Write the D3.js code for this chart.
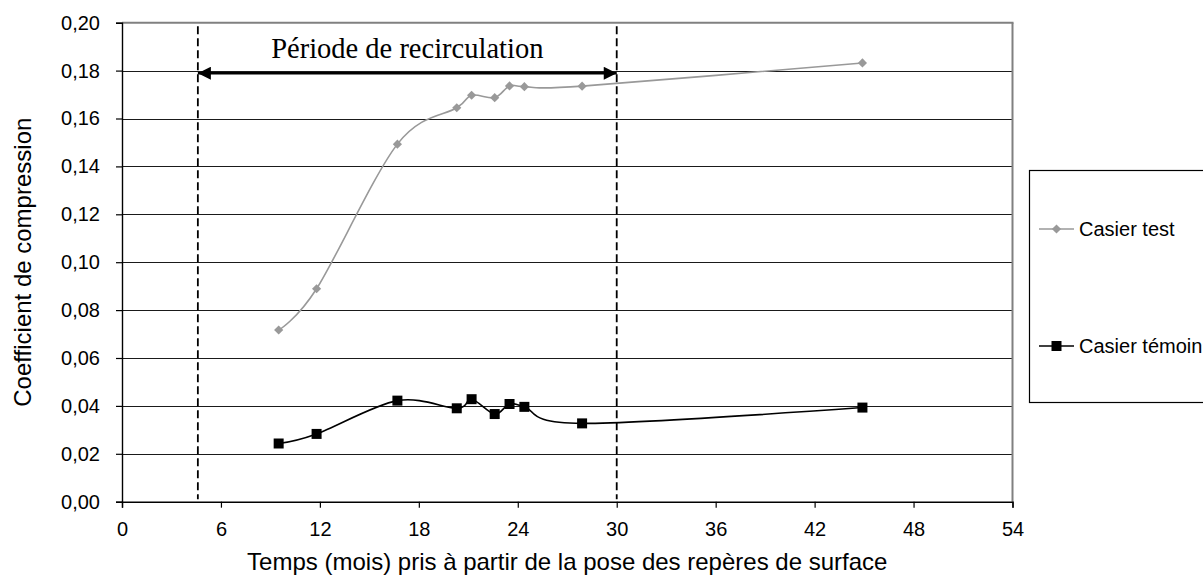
<!DOCTYPE html>
<html>
<head>
<meta charset="utf-8">
<script src="https://cdn.jsdelivr.net/npm/d3@7"></script>
<style>
  html, body { margin: 0; padding: 0; background: #fff; overflow: hidden; }
  svg { display: block; }
  text { font-family: "Liberation Sans", Arial, sans-serif; fill: #000; }
</style>
</head>
<body>
<svg id="chart" width="1203" height="581"></svg>
<script>
// Time since the surface markers were laid (months)
const months = [9.5, 11.8, 16.7, 20.3, 21.2, 22.6, 23.5, 24.4, 27.9, 44.9];
// Compression coefficient, test cell (recirculation)
const casierTest = [0.0717, 0.0889, 0.1493, 0.1645, 0.1697, 0.1687, 0.1736, 0.1733, 0.1735, 0.1832];
// Compression coefficient, control cell
const casierTemoin = [0.0243, 0.0283, 0.0422, 0.0390, 0.0428, 0.0366, 0.0408, 0.0396, 0.0327, 0.0393];
// Recirculation period (months)
const recirculation = [4.6, 30];
const arrowLevel = 0.1789;

const xTicks = [0, 6, 12, 18, 24, 30, 36, 42, 48, 54];
const yTicks = [0, 0.02, 0.04, 0.06, 0.08, 0.10, 0.12, 0.14, 0.16, 0.18, 0.20];

const svg = d3.select("#chart");
const x = d3.scaleLinear().domain([0, 54]).range([122, 1012.5]);
const y = d3.scaleLinear().domain([0, 0.2]).range([501.7, 22.7]);
const fmt = d => d3.format(".2f")(d).replace(".", ",");

// horizontal gridlines
svg.append("g").selectAll("line")
  .data(yTicks.filter(v => v > 0 && v < 0.2))
  .join("line")
  .attr("x1", x(0)).attr("x2", x(54))
  .attr("y1", d => Math.round(y(d)) + 0.5).attr("y2", d => Math.round(y(d)) + 0.5)
  .attr("stroke", "#1a1a1a").attr("stroke-width", 1);

// plot frame (top and right edges in grey)
svg.append("line")
  .attr("x1", x(0)).attr("x2", x(54) + 1)
  .attr("y1", y(0.2)).attr("y2", y(0.2))
  .attr("stroke", "#808080").attr("stroke-width", 2);
svg.append("line")
  .attr("x1", x(54)).attr("x2", x(54))
  .attr("y1", y(0.2)).attr("y2", y(0))
  .attr("stroke", "#808080").attr("stroke-width", 2);

// axes
const yAxis = svg.append("g")
  .attr("transform", `translate(${x(0)},0)`)
  .call(d3.axisLeft(y).tickValues(yTicks).tickFormat(fmt).tickSize(6).tickPadding(16));
const xAxis = svg.append("g")
  .attr("transform", `translate(0,${y(0)})`)
  .call(d3.axisBottom(x).tickValues(xTicks).tickSize(6).tickPadding(14));
[yAxis, xAxis].forEach(g => {
  g.select(".domain").attr("stroke", "#000").attr("stroke-width", 1.4);
  g.selectAll(".tick line").attr("stroke", "#000").attr("stroke-width", 1.2);
  g.selectAll(".tick text")
    .style("font-family", '"Liberation Sans", Arial, sans-serif')
    .style("font-size", "20px").attr("fill", "#000");
});

// axis titles
svg.append("text")
  .attr("x", (x(0) + x(54)) / 2).attr("y", 570)
  .attr("text-anchor", "middle").style("font-size", "24px")
  .text("Temps (mois) pris à partir de la pose des repères de surface");
svg.append("text")
  .attr("transform", `translate(31,${(y(0) + y(0.2)) / 2}) rotate(-90)`)
  .attr("text-anchor", "middle").style("font-size", "24px")
  .text("Coefficient de compression");

// recirculation period boundaries
svg.append("g").selectAll("line")
  .data(recirculation)
  .join("line")
  .attr("x1", d => x(d)).attr("x2", d => x(d))
  .attr("y1", y(0.1985)).attr("y2", y(0.001))
  .attr("stroke", "#000").attr("stroke-width", 1.8)
  .attr("stroke-dasharray", "8,4");

// double-headed arrow
const defs = svg.append("defs");
["start", "end"].forEach(k => {
  defs.append("marker")
    .attr("id", "arrow-" + k)
    .attr("viewBox", "0 0 10 10")
    .attr("refX", 10).attr("refY", 5)
    .attr("markerUnits", "userSpaceOnUse")
    .attr("markerWidth", 17).attr("markerHeight", 13)
    .attr("orient", "auto-start-reverse")
    .append("path").attr("d", "M0,0L10,5L0,10Z").attr("fill", "#000");
});
svg.append("line")
  .attr("x1", x(recirculation[0])).attr("x2", x(recirculation[1]))
  .attr("y1", y(arrowLevel)).attr("y2", y(arrowLevel))
  .attr("stroke", "#000").attr("stroke-width", 2.6)
  .attr("marker-start", "url(#arrow-start)")
  .attr("marker-end", "url(#arrow-end)");
svg.append("text")
  .attr("x", (x(recirculation[0]) + x(recirculation[1])) / 2)
  .attr("y", 58)
  .attr("text-anchor", "middle")
  .style("font-family", '"Liberation Serif", "Times New Roman", serif')
  .style("font-size", "28.5px")
  .text("Période de recirculation");

// series
const series = [
  { name: "Casier test", values: casierTest, color: "#999999", width: 1.6, marker: "diamond" },
  { name: "Casier témoin", values: casierTemoin, color: "#000000", width: 1.6, marker: "square" }
];
const line = d3.line()
  .x(d => x(d[0])).y(d => y(d[1]))
  .curve(d3.curveCardinal.tension(0));
const symbolFor = m => m === "diamond"
  ? d3.symbol().type(d3.symbolSquare).size(42)
  : d3.symbol().type(d3.symbolSquare).size(100);

series.forEach(s => {
  const pts = months.map((m, i) => [m, s.values[i]]);
  svg.append("path")
    .attr("d", line(pts))
    .attr("fill", "none").attr("stroke", s.color).attr("stroke-width", s.width);
  svg.append("g").selectAll("path")
    .data(pts)
    .join("path")
    .attr("d", symbolFor(s.marker))
    .attr("transform", d => `translate(${x(d[0])},${y(d[1])})` + (s.marker === "diamond" ? " rotate(45)" : ""))
    .attr("fill", s.color);
});

// legend
const legend = svg.append("g");
legend.append("rect")
  .attr("x", 1029.5).attr("y", 170.5).attr("width", 200).attr("height", 232)
  .attr("fill", "#fff").attr("stroke", "#000").attr("stroke-width", 1.2);
const legendY = [229, 346];
series.forEach((s, i) => {
  const ly = legendY[i];
  legend.append("line")
    .attr("x1", 1039).attr("x2", 1074).attr("y1", ly).attr("y2", ly)
    .attr("stroke", s.color).attr("stroke-width", s.width);
  legend.append("path")
    .attr("d", symbolFor(s.marker)())
    .attr("transform", `translate(1056.5,${ly})` + (s.marker === "diamond" ? " rotate(45)" : ""))
    .attr("fill", s.color);
  legend.append("text")
    .attr("x", 1079).attr("y", ly + 7)
    .style("font-size", "20px")
    .text(s.name);
});
</script>
</body>
</html>
